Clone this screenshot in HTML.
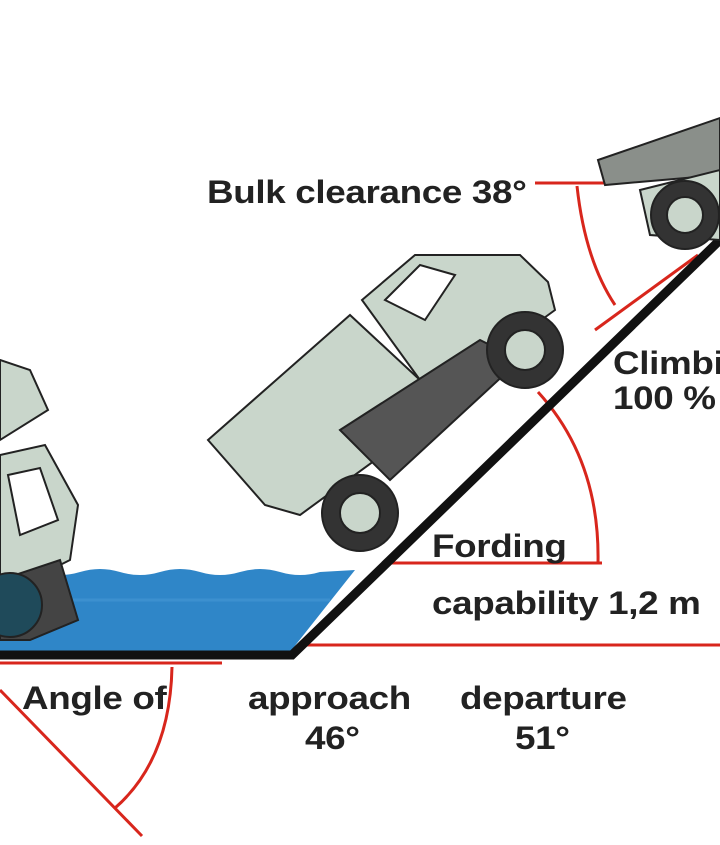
<!DOCTYPE html>
<html><head><meta charset="utf-8"><style>
html,body{margin:0;padding:0;background:#fff;}
.t{position:absolute;font-family:"Liberation Sans",sans-serif;font-weight:bold;font-size:32px;color:#222;white-space:nowrap;letter-spacing:-0.3px;transform:scaleX(1.15);transform-origin:0 0}
</style></head><body>
<div style="position:relative;width:720px;height:845px;overflow:hidden;background:#fff">
<svg width="720" height="845" style="position:absolute;left:0;top:0">
  <path d="M0 572 Q20 566 40 572 T80 572 T120 572 T160 572 T200 572 T240 572 T280 572 T320 572 L355 570 L290 652 L0 652 Z" fill="#2f86c8"/>
  <path d="M0 600 L330 600" stroke="#4a9ad6" stroke-width="3" opacity="0.5"/>
  <g stroke="#d8261c" stroke-width="3" fill="none">
    <line x1="305" y1="645" x2="720" y2="645"/>
    <line x1="0" y1="663" x2="222" y2="663"/>
    <line x1="0" y1="690" x2="142" y2="836"/>
    <path d="M172 667 Q170 760 115 808"/>
    <line x1="390" y1="563" x2="602" y2="563"/>
    <path d="M538 392 Q600 460 598 563"/>
    <line x1="535" y1="183" x2="605" y2="183"/>
    <path d="M577 186 Q585 260 615 305"/>
    <line x1="595" y1="330" x2="698" y2="255"/>
  </g>
  <path d="M0 655 L292 655 L720 240" stroke="#111" stroke-width="9" fill="none"/>
  <g stroke="#222" stroke-width="2" fill="#c9d6cb">
    <polygon points="208,440 350,315 420,380 430,420 300,515 265,505"/>
    <polygon points="362,300 415,255 520,255 548,282 555,310 500,350 420,380"/>
    <polygon points="385,300 420,265 455,275 425,320" fill="#fff"/>
    <polygon points="340,430 480,340 520,360 390,480" fill="#555"/>
    <circle cx="525" cy="350" r="38" fill="#333"/><circle cx="525" cy="350" r="20" fill="#c9d6cb"/>
    <circle cx="360" cy="513" r="38" fill="#333"/><circle cx="360" cy="513" r="20" fill="#c9d6cb"/>
  </g>
  <g stroke="#222" stroke-width="2" fill="#c9d6cb">
    <polygon points="598,160 720,118 720,175 605,185" fill="#8a8f8a"/>
    <polygon points="640,190 720,170 720,240 650,235"/>
    <circle cx="685" cy="215" r="34" fill="#333"/><circle cx="685" cy="215" r="18" fill="#c9d6cb"/>
  </g>
  <g stroke="#222" stroke-width="2" fill="#c9d6cb">
    <polygon points="0,360 30,370 48,410 0,440"/>
    <polygon points="0,455 45,445 78,505 70,560 30,580 0,585"/>
    <polygon points="8,475 40,468 58,520 20,535" fill="#fff"/>
    <polygon points="0,580 60,560 78,620 30,640 0,640" fill="#444"/>
    <circle cx="10" cy="605" r="32" fill="#1f4a5a"/>
  </g>
</svg>
<div class="t" style="left:207px;top:174px">Bulk clearance 38°</div>
<div class="t" style="left:613px;top:345px">Climbi</div>
<div class="t" style="left:613px;top:380px">100 % =</div>
<div class="t" style="left:432px;top:528px">Fording</div>
<div class="t" style="left:432px;top:585px">capability 1,2 m</div>
<div class="t" style="left:22px;top:680px">Angle of</div>
<div class="t" style="left:248px;top:680px">approach</div>
<div class="t" style="left:305px;top:720px">46°</div>
<div class="t" style="left:460px;top:680px">departure</div>
<div class="t" style="left:515px;top:720px">51°</div>
</div>
</body></html>
